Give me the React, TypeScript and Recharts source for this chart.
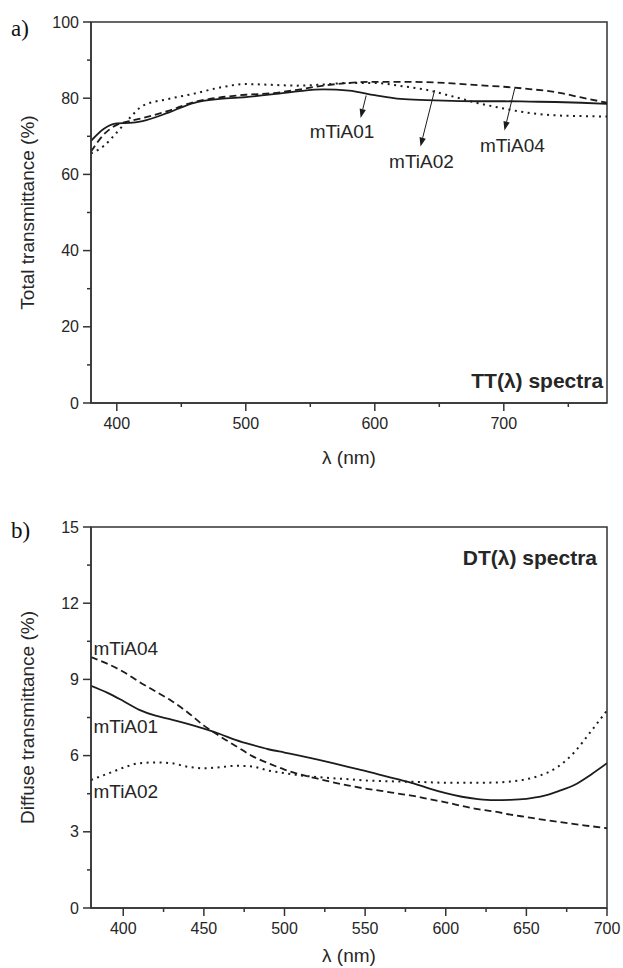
import React from 'react';
import { LineChart, Line, XAxis, YAxis, ReferenceArea, ReferenceLine, ReferenceDot, Label } from 'recharts';

// ---------- Data: (a) total transmittance ----------
const ttLambda = [380, 390, 400, 410, 420, 440, 460, 480, 500, 520, 540, 560, 580, 600, 620, 640, 660, 680, 700, 720, 740, 760, 780];
const ttA01 = [68.8, 72.0, 73.4, 73.5, 74.0, 76.2, 78.8, 79.8, 80.3, 81.0, 81.8, 82.3, 82.0, 80.8, 79.8, 79.5, 79.3, 79.2, 79.2, 79.1, 79.0, 78.8, 78.5];
const ttA02 = [65.5, 67.5, 71.0, 74.8, 78.0, 79.8, 81.2, 82.8, 83.7, 83.5, 83.3, 83.6, 84.0, 84.0, 83.2, 82.2, 80.5, 78.7, 77.3, 76.1, 75.5, 75.3, 75.2];
const ttA04 = [66.0, 70.5, 73.0, 74.0, 74.8, 76.7, 79.0, 80.2, 80.9, 81.3, 82.2, 83.3, 84.0, 84.3, 84.3, 84.2, 83.9, 83.4, 83.0, 82.4, 81.6, 80.2, 78.8];

const ttXTicks = [400, 450, 500, 550, 600, 650, 700, 750];
const ttXLabels = [400, 500, 600, 700];
const ttYTicks = [0, 10, 20, 30, 40, 50, 60, 70, 80, 90, 100];
const ttYLabels = [0, 20, 40, 60, 80, 100];

// ---------- Data: (b) diffuse transmittance ----------
const dtLambda = [380, 390, 400, 410, 420, 430, 440, 450, 460, 470, 480, 490, 500, 510, 520, 530, 540, 550, 560, 570, 580, 590, 600, 610, 620, 630, 640, 650, 660, 670, 680, 690, 700];
const dtA01 = [8.75, 8.48, 8.15, 7.80, 7.57, 7.42, 7.25, 7.06, 6.85, 6.61, 6.42, 6.25, 6.12, 5.99, 5.85, 5.70, 5.55, 5.40, 5.23, 5.07, 4.91, 4.70, 4.52, 4.38, 4.29, 4.25, 4.26, 4.30, 4.40, 4.60, 4.85, 5.25, 5.70];
const dtA02 = [5.04, 5.28, 5.52, 5.70, 5.73, 5.70, 5.56, 5.50, 5.54, 5.60, 5.57, 5.41, 5.31, 5.22, 5.16, 5.11, 5.07, 5.02, 5.00, 4.98, 4.97, 4.95, 4.93, 4.93, 4.93, 4.94, 4.98, 5.07, 5.25, 5.58, 6.15, 6.95, 7.78];
const dtA04 = [9.88, 9.62, 9.30, 8.90, 8.53, 8.15, 7.70, 7.18, 6.76, 6.37, 5.98, 5.70, 5.45, 5.25, 5.10, 4.95, 4.82, 4.70, 4.61, 4.51, 4.41, 4.28, 4.16, 4.02, 3.89, 3.80, 3.68, 3.58, 3.48, 3.39, 3.30, 3.22, 3.14];

const dtXTicks = [400, 425, 450, 475, 500, 525, 550, 575, 600, 625, 650, 675, 700];
const dtXLabels = [400, 450, 500, 550, 600, 650, 700];
const dtYTicks = [0, 1.5, 3, 4.5, 6, 7.5, 9, 10.5, 12, 13.5, 15];
const dtYLabels = [0, 3, 6, 9, 12, 15];

const ttData = ttLambda.map((l, i) => ({ l, a01: ttA01[i], a02: ttA02[i], a04: ttA04[i] }));
const dtData = dtLambda.map((l, i) => ({ l, a01: dtA01[i], a02: dtA02[i], a04: dtA04[i] }));

// annotations (data coordinates)
const ttNotes = [
  { name: 'mTiA01', tx: 574.6, ty: 71.3, x1: 593.3, y1: 80.7, x2: 589, y2: 74.8 },
  { name: 'mTiA02', tx: 636.2, ty: 63.3, x1: 646.4, y1: 82.1, x2: 635.4, y2: 67.3 },
  { name: 'mTiA04', tx: 706.7, ty: 67.7, x1: 708.5, y1: 82.6, x2: 700.5, y2: 71.5 },
];
const dtNotes = [
  { name: 'mTiA04', tx: 381.5, ty: 10.2 },
  { name: 'mTiA01', tx: 381.5, ty: 7.14 },
  { name: 'mTiA02', tx: 381.5, ty: 4.58 },
];

const FONT = "Arial, 'Liberation Sans', sans-serif";
const AX = '#333';
const INK = '#1c1c1c';
const TXT = '#262626';

const makeXTick = (labels: number[]) => (p: any) => {
  const { x, y, payload } = p;
  const major = labels.includes(payload.value);
  return (
    <g>
      <line x1={x} x2={x} y1={y} y2={y + (major ? 8 : 4)} stroke={AX} strokeWidth={1.5} />
      {major && (
        <text x={x} y={y + 20} textAnchor="middle" dominantBaseline="central" fontSize={16} fontFamily={FONT} fill={TXT}>
          {payload.value}
        </text>
      )}
    </g>
  );
};

const makeYTick = (labels: number[]) => (p: any) => {
  const { x, y, payload } = p;
  const major = labels.includes(payload.value);
  return (
    <g>
      <line x1={x - (major ? 8 : 4)} x2={x} y1={y} y2={y} stroke={AX} strokeWidth={1.5} />
      {major && (
        <text x={x - 12} y={y} textAnchor="end" dominantBaseline="central" fontSize={16} fontFamily={FONT} fill={TXT}>
          {payload.value}
        </text>
      )}
    </g>
  );
};

const yTitle = (text: string) => (p: any) => {
  const vb = p.viewBox || {};
  const cx = 27;
  const cy = vb.y + vb.height / 2;
  return (
    <text x={cx} y={cy} transform={`rotate(-90 ${cx} ${cy})`} textAnchor="middle" dominantBaseline="central" fontSize={19} fontFamily={FONT} fill={TXT}>
      {text}
    </text>
  );
};

const xTitle = (text: string, dy: number) => (p: any) => {
  const vb = p.viewBox || {};
  const cx = vb.x + vb.width / 2;
  return (
    <text x={cx} y={vb.y + dy} textAnchor="middle" dominantBaseline="central" fontSize={19} fontFamily={FONT} fill={TXT}>
      {text}
    </text>
  );
};

const Arrow = (p: any) => {
  const { x1, y1, x2, y2 } = p;
  const ang = Math.atan2(y2 - y1, x2 - x1);
  const L = 9, W = 3.2;
  const bx = x2 - L * Math.cos(ang), by = y2 - L * Math.sin(ang);
  const px = -Math.sin(ang) * W, py = Math.cos(ang) * W;
  return (
    <g>
      <line x1={x1} y1={y1} x2={bx} y2={by} stroke={INK} strokeWidth={1} />
      <polygon points={`${x2},${y2} ${bx + px},${by + py} ${bx - px},${by - py}`} fill={INK} />
    </g>
  );
};

const noteText = (name: string, anchor: 'middle' | 'start') => (p: any) => (
  <text x={p.cx} y={p.cy} textAnchor={anchor} dominantBaseline="central" fontSize={19} fontFamily={FONT} fill={TXT}>
    {name}
  </text>
);

const boldText = (name: string) => (p: any) => (
  <text x={p.cx} y={p.cy} textAnchor="end" dominantBaseline="central" fontSize={21} fontWeight="bold" fontFamily={FONT} fill={TXT}>
    {name}
  </text>
);

const lineCommon = { type: 'monotone' as const, dot: false, isAnimationActive: false, stroke: INK };

export default function App() {
  return (
    <div style={{ position: 'absolute', left: 0, top: 0, width: 623, height: 968, background: '#fff', overflow: 'hidden' }}>
      <div style={{ position: 'absolute', left: 11, top: 14, fontFamily: "'Liberation Serif', 'Times New Roman', serif", fontSize: 23, color: '#111', lineHeight: '30px' }}>a)</div>
      <div style={{ position: 'absolute', left: 11, top: 516, fontFamily: "'Liberation Serif', 'Times New Roman', serif", fontSize: 23, color: '#111', lineHeight: '30px' }}>b)</div>

      <div style={{ position: 'absolute', left: 0, top: 0 }}>
        <LineChart width={623} height={480} data={ttData} margin={{ top: 22, right: 16, left: 0, bottom: 20 }}>
          <XAxis dataKey="l" type="number" domain={[380, 780]} ticks={ttXTicks} interval={0} allowDataOverflow
            tickSize={0} tickMargin={0} tickLine={false} axisLine={{ stroke: AX, strokeWidth: 1.5 }} height={57}
            tick={makeXTick(ttXLabels)}>
            <Label content={xTitle('λ (nm)', 54)} />
          </XAxis>
          <YAxis type="number" domain={[0, 100]} ticks={ttYTicks} interval={0} allowDataOverflow width={91}
            tickSize={0} tickMargin={0} tickLine={false} axisLine={{ stroke: AX, strokeWidth: 1.5 }}
            tick={makeYTick(ttYLabels)}>
            <Label content={yTitle('Total transmittance (%)')} />
          </YAxis>
          <ReferenceArea x1={380} x2={780} y1={0} y2={100} fill="none" stroke={AX} strokeWidth={1.5} />
          <Line {...lineCommon} dataKey="a02" strokeWidth={2} strokeDasharray="2 4.5" />
          <Line {...lineCommon} dataKey="a04" strokeWidth={1.8} strokeDasharray="7 4" />
          <Line {...lineCommon} dataKey="a01" strokeWidth={1.8} />
          {ttNotes.map((n) => (
            <ReferenceLine key={'l' + n.name} segment={[{ x: n.x1, y: n.y1 }, { x: n.x2, y: n.y2 }]} shape={Arrow} />
          ))}
          {ttNotes.map((n) => (
            <ReferenceDot key={'t' + n.name} x={n.tx} y={n.ty} r={0} shape={noteText(n.name, 'middle')} />
          ))}
          <ReferenceDot x={777} y={6} r={0} shape={boldText('TT(λ) spectra')} />
        </LineChart>
      </div>

      <div style={{ position: 'absolute', left: 0, top: 480 }}>
        <LineChart width={623} height={488} data={dtData} margin={{ top: 47, right: 16, left: 0, bottom: 10 }}>
          <XAxis dataKey="l" type="number" domain={[380, 700]} ticks={dtXTicks} interval={0} allowDataOverflow
            tickSize={0} tickMargin={0} tickLine={false} axisLine={{ stroke: AX, strokeWidth: 1.5 }} height={50}
            tick={makeXTick(dtXLabels)}>
            <Label content={xTitle('λ (nm)', 47)} />
          </XAxis>
          <YAxis type="number" domain={[0, 15]} ticks={dtYTicks} interval={0} allowDataOverflow width={91}
            tickSize={0} tickMargin={0} tickLine={false} axisLine={{ stroke: AX, strokeWidth: 1.5 }}
            tick={makeYTick(dtYLabels)}>
            <Label content={yTitle('Diffuse transmittance (%)')} />
          </YAxis>
          <ReferenceArea x1={380} x2={700} y1={0} y2={15} fill="none" stroke={AX} strokeWidth={1.5} />
          <Line {...lineCommon} dataKey="a02" strokeWidth={2} strokeDasharray="2 4.5" />
          <Line {...lineCommon} dataKey="a04" strokeWidth={1.8} strokeDasharray="7 4" />
          <Line {...lineCommon} dataKey="a01" strokeWidth={1.8} />
          {dtNotes.map((n) => (
            <ReferenceDot key={'t' + n.name} x={n.tx} y={n.ty} r={0} shape={noteText(n.name, 'start')} />
          ))}
          <ReferenceDot x={693.8} y={13.8} r={0} shape={boldText('DT(λ) spectra')} />
        </LineChart>
      </div>
    </div>
  );
}
